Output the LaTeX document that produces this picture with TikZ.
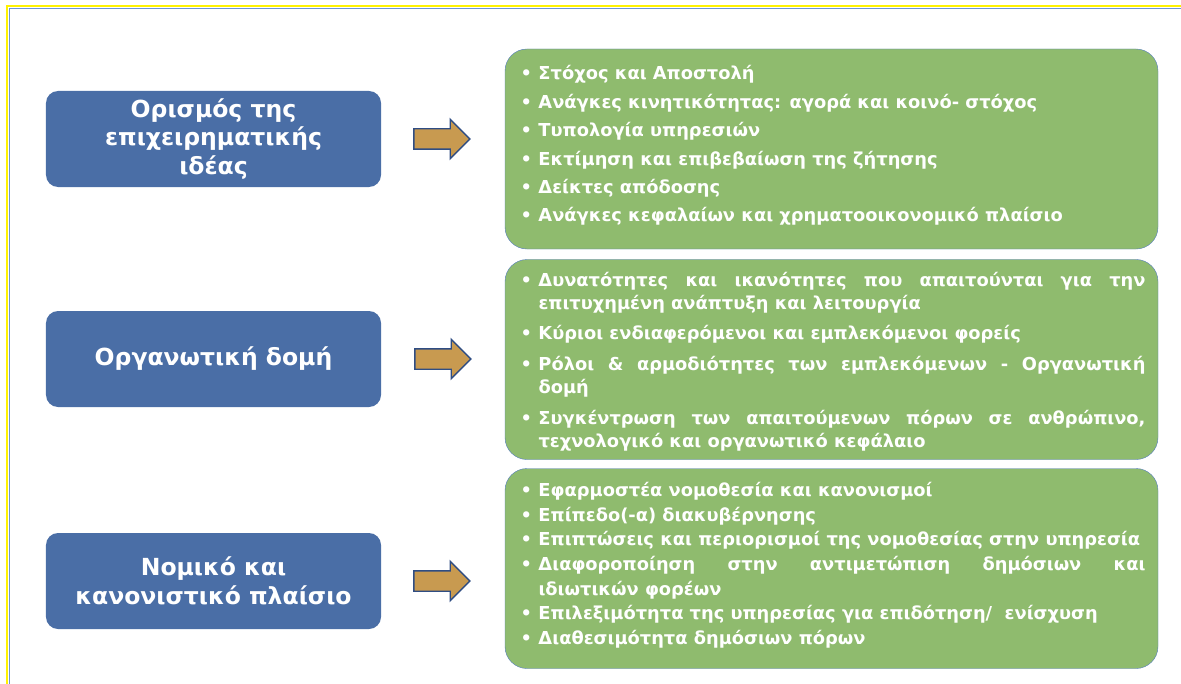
\documentclass[tikz,border=0pt]{standalone}
\usepackage{fontspec}
\setmainfont{DejaVu Sans}
\usepackage{tikz}
\usetikzlibrary{calc, positioning, shapes.arrows}

\definecolor{bleutitre}{RGB}{74,110,166}
\definecolor{vertcadre}{RGB}{143,187,110}
\definecolor{bordvert}{RGB}{84,124,190}
\definecolor{ocre}{RGB}{200,154,80}
\definecolor{bordfleche}{RGB}{47,77,131}
\definecolor{jaune}{RGB}{255,242,0}
\definecolor{bleucadre}{RGB}{110,150,210}

\newcommand{\elem}[1]{\par\hangindent=21bp\hangafter=1\noindent\makebox[21bp][l]{\hspace{3bp}•}#1}

\begin{document}
\begin{tikzpicture}[x=1bp, y=-1bp,
    titre/.style={fill=bleutitre, rounded corners=12bp, minimum width=335bp,
        minimum height=96bp, text=white, align=center,
        font=\bfseries\fontsize{23.6}{29}\selectfont},
    liste/.style={draw=bordvert, fill=vertcadre, rounded corners=22bp,
        text width=628bp, inner xsep=12.5bp, minimum height=200bp, text=white,
        align=justify, font=\bfseries\fontsize{17.9}{#1}\selectfont,
        execute at begin node={\tolerance=9999\hbadness=10000\hyphenpenalty=10000}},
    fleche/.style={single arrow, draw=bordfleche, fill=ocre, line width=1.4bp,
        inner sep=9.5bp, single arrow head extend=9.5bp, minimum height=56bp}]

    \useasboundingbox (0,0) rectangle (1181,684);

    % Cadre
    \draw[jaune, line width=2bp] (7,684) |- (1181,6);
    \draw[bleucadre, line width=1bp] (9,684) |- (1181,8.5);

    % Titres (gauche)
    \node[titre] (t1) at (213.5,139) {Ορισμός της\\επιχειρηματικής\\ιδέας};
    \node[titre] (t2) at (213.5,359) {Οργανωτική δομή};
    \node[titre] (t3) at (213.5,581) {Νομικό και\\κανονιστικό πλαίσιο};

    % Listes (droite)
    \node[liste=21, execute at begin node={\setlength{\parskip}{7.5bp}}] (g1) at (831.5,149) {%
        \vspace*{-21bp}
        \elem{Στόχος και Αποστολή}
        \elem{Ανάγκες κινητικότητας: αγορά και κοινό- στόχος}
        \elem{Τυπολογία υπηρεσιών}
        \elem{Εκτίμηση και επιβεβαίωση της ζήτησης}
        \elem{Δείκτες απόδοσης}
        \elem{Ανάγκες κεφαλαίων και χρηματοοικονομικό πλαίσιο}\par};
    \node[liste=23.5, execute at begin node={\setlength{\parskip}{7bp}}] (g2) at (831.5,359.5) {%
        \vspace*{-12bp}
        \elem{Δυνατότητες και ικανότητες που απαιτούνται για την\linebreak επιτυχημένη ανάπτυξη και λειτουργία}
        \elem{Κύριοι ενδιαφερόμενοι και εμπλεκόμενοι φορείς}
        \elem{Ρόλοι \& αρμοδιότητες των εμπλεκόμενων - Οργανωτική\linebreak δομή}
        \elem{Συγκέντρωση των απαιτούμενων πόρων σε ανθρώπινο,\linebreak τεχνολογικό και οργανωτικό κεφάλαιο}\par};
    \node[liste=24.8, execute at begin node={\setlength{\parskip}{0bp}}] (g3) at (831.5,568.5) {%
        \vspace*{-17bp}
        \elem{Εφαρμοστέα νομοθεσία και κανονισμοί}
        \elem{Επίπεδο(-α) διακυβέρνησης}
        \elem{Επιπτώσεις και περιορισμοί της νομοθεσίας στην υπηρεσία}
        \elem{Διαφοροποίηση στην αντιμετώπιση δημόσιων και\linebreak ιδιωτικών φορέων}
        \elem{Επιλεξιμότητα της υπηρεσίας για επιδότηση/~ ενίσχυση}
        \elem{Διαθεσιμότητα δημόσιων πόρων}\par};

    % Flèches
    \node[fleche, right=32bp of t1] (a1) {};
    \node[fleche, right=33bp of t2] (a2) {};
    \node[fleche, right=32bp of t3] (a3) {};

\end{tikzpicture}
\end{document}
